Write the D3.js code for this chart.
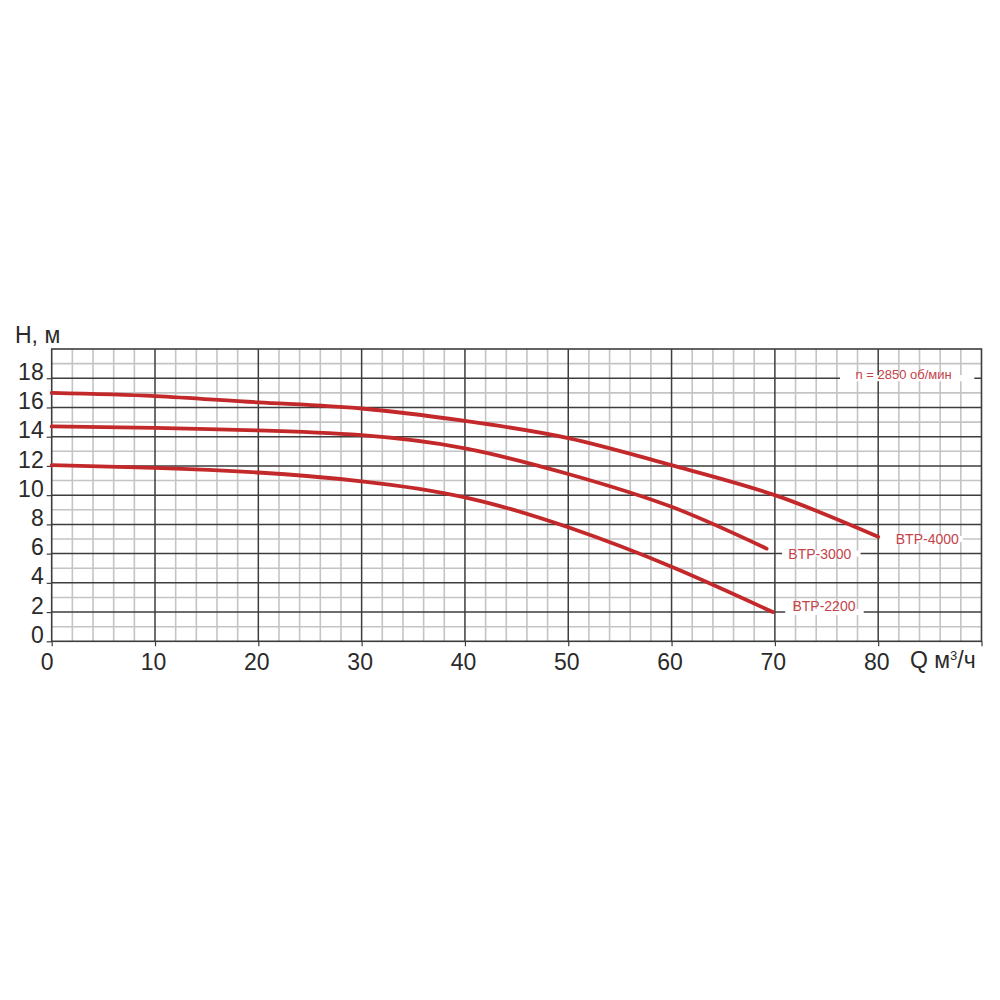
<!DOCTYPE html>
<html>
<head>
<meta charset="utf-8">
<script src="https://cdn.jsdelivr.net/npm/d3@7"></script>
<style>
  html, body { margin: 0; padding: 0; background: #fff; }
  svg { display: block; font-family: "Liberation Sans", Arial, Helvetica, sans-serif; }
</style>
</head>
<body>
<svg id="chart" width="1000" height="1000"></svg>
<script>
// ---- data ----
const xTickValues = [0, 10, 20, 30, 40, 50, 60, 70, 80];
const yTickValues = [0, 2, 4, 6, 8, 10, 12, 14, 16, 18];

const btp4000Q = [0, 10, 20, 30, 40, 50, 60, 70, 80];
const btp4000H = [17.0, 16.78, 16.35, 15.93, 15.08, 13.9, 12.05, 10.0, 7.15];

const btp3000Q = [0, 10, 20, 30, 40, 50, 60, 69.2];
const btp3000H = [14.7, 14.6, 14.43, 14.1, 13.2, 11.45, 9.2, 6.34];

const btp2200Q = [0, 10, 20, 30, 40, 50, 60, 69.8];
const btp2200H = [12.05, 11.87, 11.55, 10.95, 9.85, 7.8, 5.1, 2.0];

const seriesNames = ["BTP-4000", "BTP-3000", "BTP-2200"];
const speedNote = "n = 2850 об/мин";

// ---- layout ----
const svg = d3.select("#chart");
const x = d3.scaleLinear().domain([0, 90]).range([51.7, 981.5]);
const y = d3.scaleLinear().domain([0, 20]).range([641.3, 349]);

const dark = "#3d3d3d";
const light = "#c4c4c4";
const red = "#c3292b";
const textRed = "#c4434a";

const grid = svg.append("g");
grid.selectAll(".vminor").data(d3.range(0, 91, 2).filter(v => v % 10 !== 0))
  .join("line")
  .attr("x1", d => x(d)).attr("x2", d => x(d))
  .attr("y1", y(0)).attr("y2", y(20))
  .attr("stroke", light).attr("stroke-width", 1.6);
grid.selectAll(".hminor").data(d3.range(1, 20, 2))
  .join("line")
  .attr("x1", x(0)).attr("x2", x(90))
  .attr("y1", d => y(d)).attr("y2", d => y(d))
  .attr("stroke", light).attr("stroke-width", 1.6);
grid.selectAll(".vmajor").data(d3.range(10, 90, 10))
  .join("line")
  .attr("x1", d => x(d)).attr("x2", d => x(d))
  .attr("y1", y(0)).attr("y2", y(20))
  .attr("stroke", dark).attr("stroke-width", 1.5);
grid.selectAll(".hmajor").data(d3.range(2, 20, 2))
  .join("line")
  .attr("x1", x(0)).attr("x2", x(90))
  .attr("y1", d => y(d)).attr("y2", d => y(d))
  .attr("stroke", dark).attr("stroke-width", 1.5);
grid.append("rect")
  .attr("x", x(0)).attr("y", y(20))
  .attr("width", x(90) - x(0)).attr("height", y(0) - y(20))
  .attr("fill", "none").attr("stroke", dark).attr("stroke-width", 1.6);

// ---- axes ----
const yAxis = svg.append("g")
  .attr("transform", `translate(${x(0)},0)`)
  .call(d3.axisLeft(y).tickValues(yTickValues).tickSize(5).tickPadding(3));
yAxis.select(".domain").remove();
yAxis.selectAll(".tick line").attr("stroke", dark).attr("stroke-width", 1.2);
yAxis.selectAll(".tick text")
  .attr("font-size", 23).attr("fill", "#2a2a2a")
  .attr("font-family", "Liberation Sans, Arial, sans-serif")
  .attr("dy", "0.05em");

const xAxis = svg.append("g")
  .attr("transform", `translate(0,${y(0)})`)
  .call(d3.axisBottom(x).tickValues(d3.range(0, 91, 10)).tickSize(5).tickPadding(7)
    .tickFormat(d => xTickValues.includes(d) ? d : ""));
xAxis.select(".domain").remove();
xAxis.selectAll(".tick line").attr("stroke", dark).attr("stroke-width", 1.2);
xAxis.selectAll(".tick text")
  .attr("font-size", 23).attr("fill", "#2a2a2a")
  .attr("font-family", "Liberation Sans, Arial, sans-serif")
  .attr("dx", d => d === 0 ? -5 : -2);

// axis titles
svg.append("text").attr("x", 15).attr("y", 342.5)
  .attr("font-size", 23).attr("fill", "#2a2a2a").text("H, м");
const qt = svg.append("text").attr("x", 910).attr("y", 668)
  .attr("font-size", 23).attr("fill", "#2a2a2a");
qt.append("tspan").text("Q м");
qt.append("tspan").attr("font-size", 13).attr("dy", -8).text("3");
qt.append("tspan").attr("dy", 8).text("/ч");

// ---- curves ----
const seriesData = [
  { name: seriesNames[0], q: btp4000Q, h: btp4000H },
  { name: seriesNames[1], q: btp3000Q, h: btp3000H },
  { name: seriesNames[2], q: btp2200Q, h: btp2200H }
];
const line = d3.line().x(d => x(d[0])).y(d => y(d[1])).curve(d3.curveNatural);
svg.append("g").selectAll("path").data(seriesData).join("path")
  .attr("d", s => line(s.q.map((v, i) => [v, s.h[i]])))
  .attr("fill", "none").attr("stroke", red).attr("stroke-width", 3.8)
  .attr("stroke-linecap", "round");

// ---- labels with white backgrounds ----
const labelSpecs = [
  { text: seriesNames[0], gx0: x(80.2), gx1: x(88.2), gy: y(7), tx: x(81.7), ty: y(7) + 5.2, size: 14 },
  { text: seriesNames[1], gx0: x(70.7), gx1: x(78.3), gy: y(6), tx: x(71.3), ty: y(6) + 5.8, size: 14 },
  { text: seriesNames[2], gx0: x(71.0), gx1: x(78.6), gy: y(2), tx: x(71.7), ty: y(2) - 1.5, size: 14 },
  { text: speedNote, gx0: x(76.3), gx1: x(89.3), gy: y(18), tx: x(77.8), ty: y(18) + 1.2, size: 13 }
];
const lg = svg.append("g");
lg.selectAll("rect").data(labelSpecs).join("rect")
  .attr("x", d => d.gx0).attr("width", d => d.gx1 - d.gx0)
  .attr("y", d => d.gy - 3).attr("height", 6)
  .attr("fill", "#fff");
lg.selectAll("text").data(labelSpecs).join("text")
  .attr("x", d => d.tx).attr("y", d => d.ty)
  .attr("font-size", d => d.size).attr("fill", textRed)
  .text(d => d.text);
</script>
</body>
</html>
